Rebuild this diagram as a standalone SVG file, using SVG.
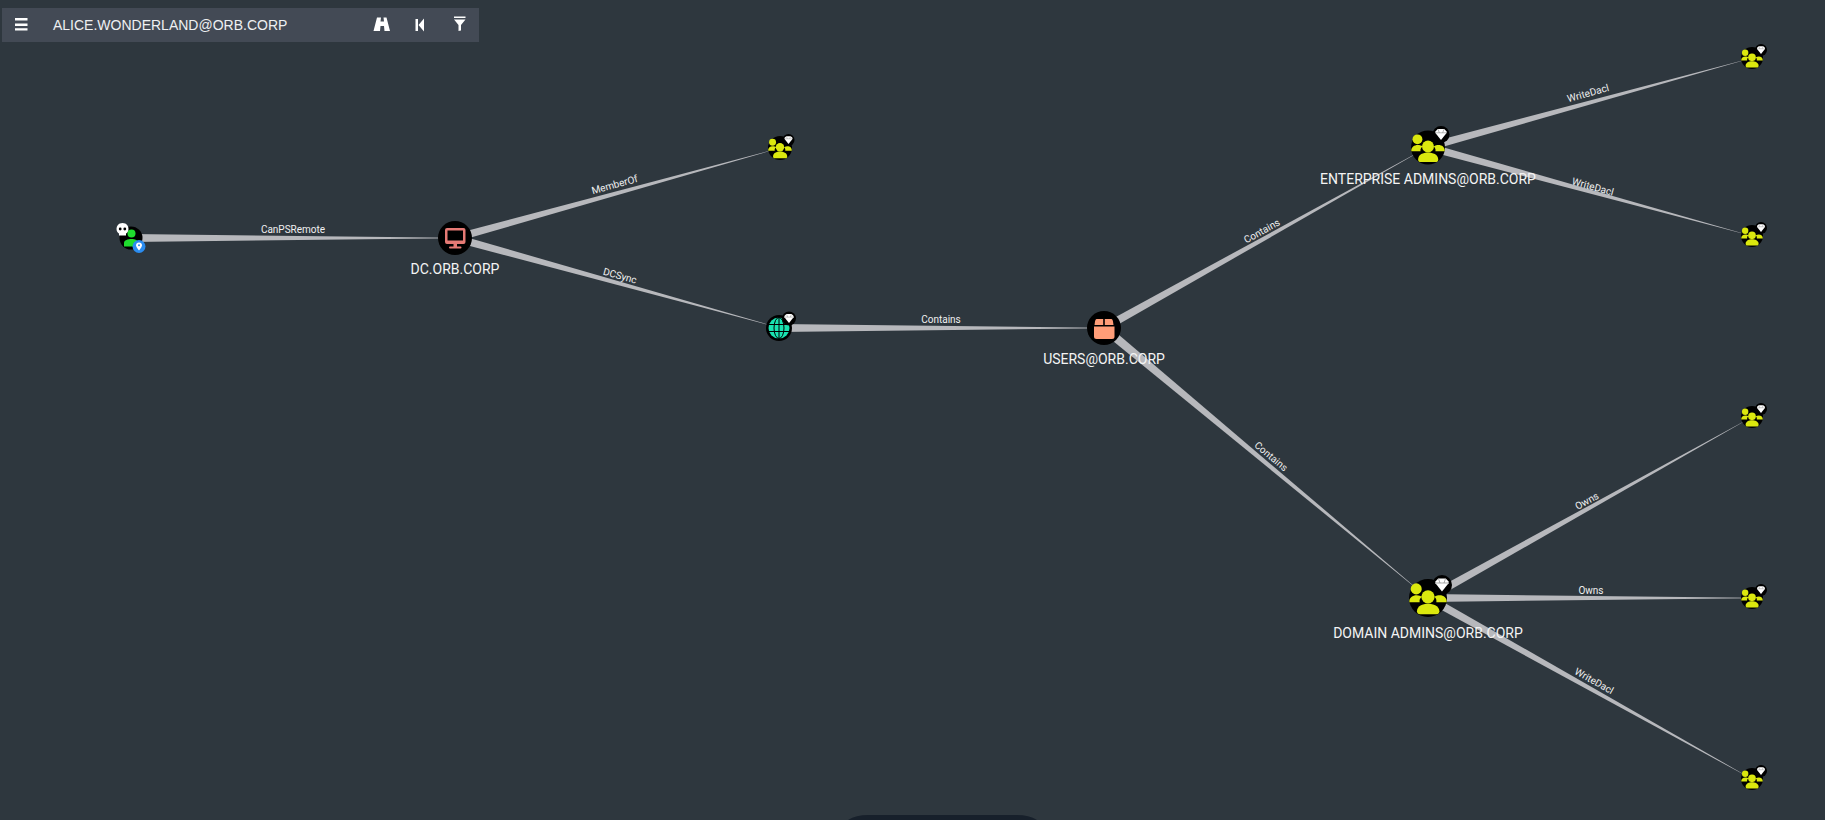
<svg xmlns="http://www.w3.org/2000/svg" width="1825" height="820" viewBox="0 0 1825 820">
<style>
.bg{fill:#2e373e}
.edge{fill:#b7b8bc}
.el{font-family:Roboto,"Liberation Sans",sans-serif;font-size:10px;fill:#f0f0f0;text-anchor:middle}
.nl{font-family:Roboto,"Liberation Sans",sans-serif;font-size:14px;font-weight:400;fill:#f4f4f4;text-anchor:middle}
.yl{fill:#dbe80e}
.ic{fill:#fff}
</style>
<defs>
<g id="group">
<circle r="1" fill="#000"/>
<circle cx="0" cy="-.06" r=".35" class="yl"/>
<path class="yl" d="M-.58.7C-.58.42-.28.3 0 .3S.6.42.6.7C.6.8.54.86.44.86H-.42C-.52.86-.58.8-.58.7Z"/>
<circle cx="-.62" cy="-.48" r=".29" class="yl"/>
<path class="yl" d="M-.98.22C-1-.02-.8-.14-.6-.14-.48-.14-.38-.1-.32-.06-.42.02-.46.1-.44.22ZM.44.22C.46.1.42.02.34-.06.44-.12.52-.14.62-.14.82-.14 1-.02.98.22Z"/>
</g>
<g id="gem">
<circle r="1" fill="#000"/>
<path fill="#fff" d="M-.66-.36-.38-.64H.38L.66-.36V-.18L0 .66-.66-.18Z"/>
<path fill="none" stroke="#777" stroke-width=".06" d="M-.62-.2H.62M-.34-.6-.2-.2M.2-.2.34-.6"/>
</g>
</defs>
<rect class="bg" width="1825" height="820"/>
<path d="M848 820Q856 815 868 815H1017Q1029 815 1037 820Z" fill="#17202b"/>

<g id="connectors">
<polygon class="edge" points="131,234 455,237.850 455,238.150 131,242"/>
<polygon class="edge" points="454,234.200 780,147.900 780,148.100 456,241.800"/>
<polygon class="edge" points="456,234.200 780,327.900 780,328.100 454,241.800"/>
<polygon class="edge" points="779,324 1104,327.850 1104,328.150 779,332"/>
<polygon class="edge" points="1102,324.500 1428,146.900 1428,147.100 1106,331.500"/>
<polygon class="edge" points="1107.300,325 1428,597.900 1428,598.100 1100.700,331"/>
<polygon class="edge" points="1427,143.200 1752,57.900 1752,58.100 1429,150.800"/>
<polygon class="edge" points="1429,143.200 1752,235.900 1752,236.100 1427,150.800"/>
<polygon class="edge" points="1426,594.500 1752,416.900 1752,417.100 1430,601.500"/>
<polygon class="edge" points="1428,594 1752,597.850 1752,598.150 1428,602"/>
<polygon class="edge" points="1430,594.500 1752,778.900 1752,779.100 1426,601.500"/>
<text class="el" x="293" y="233">CanPSRemote</text>
<text class="el" transform="translate(615.500 188) rotate(-15.500)">MemberOf</text>
<text class="el" transform="translate(619 279) rotate(15.500)">DCSync</text>
<text class="el" x="941" y="323">Contains</text>
<text class="el" transform="translate(1263.500 234) rotate(-29)">Contains</text>
<text class="el" transform="translate(1269 459) rotate(40)">Contains</text>
<text class="el" transform="translate(1589 96.500) rotate(-15.500)">WriteDacl</text>
<text class="el" transform="translate(1592 190) rotate(15.500)">WriteDacl</text>
<text class="el" transform="translate(1588.500 504) rotate(-29)">Owns</text>
<text class="el" x="1591" y="594">Owns</text>
<text class="el" transform="translate(1592.500 684) rotate(29)">WriteDacl</text>
</g>

<g id="n-alice">
<circle cx="131" cy="238" r="11.500" fill="#000"/>
<circle cx="131.500" cy="233.500" r="4" fill="#1fdc2e"/>
<path d="M124 246.500V243C124 240 128 239 131.500 239S138 240 138 243V246.500Z" fill="#1fdc2e"/>
<path class="ic" d="M122.500 223C118.500 223 116.500 226 116.500 229 116.500 231.500 118 233 119 233.500V235.500H126V233.500C127 233 128.500 231.500 128.500 229 128.500 226 126.500 223 122.500 223Z"/>
<circle cx="120.200" cy="229" r="1.400" fill="#000"/><circle cx="124.800" cy="229" r="1.400" fill="#000"/>
<circle cx="139" cy="246.500" r="6.500" fill="#2a8cf0"/>
<path class="ic" d="M139 242.500C137.200 242.500 136 243.800 136 245.300 136 247.200 139 250.500 139 250.500S142 247.200 142 245.300C142 243.800 140.800 242.500 139 242.500Z"/>
<circle cx="139" cy="245.300" r="1" fill="#2a8cf0"/>
</g>

<g id="n-dc">
<circle cx="455" cy="238" r="17" fill="#000"/>
<path fill="#e67a75" fill-rule="evenodd" d="M447 228H463.500A2 2 0 0 1 465.500 230V242A2 2 0 0 1 463.500 244H447A2 2 0 0 1 445 242V230A2 2 0 0 1 447 228ZM447.500 230.500V240.500H463V230.500Z"/>
<rect x="453.500" y="244" width="3.500" height="3" fill="#e67a75"/>
<rect x="449" y="246.500" width="12.500" height="2" rx="1" fill="#e67a75"/>
<text class="nl" x="455" y="273.500">DC.ORB.CORP</text>
</g>

<g id="n-g1">
<use href="#group" transform="translate(780 148) scale(12)"/>
<use href="#gem" transform="translate(788.500 140) scale(6)"/>
</g>

<g id="n-domain">
<circle cx="779" cy="328" r="13" fill="#000"/>
<circle cx="779" cy="328" r="10.500" fill="#19e3b1"/>
<g fill="none" stroke="#000" stroke-width="1">
<ellipse cx="779" cy="328" rx="5" ry="10.500"/>
<path d="M768.500 324.500H789.500M768.500 331.500H789.500M779 317.500V338.500"/>
</g>
<use href="#gem" transform="translate(789 318.500) scale(7)"/>
</g>

<g id="n-users">
<circle cx="1104" cy="328" r="17" fill="#000"/>
<path fill="#ff9d78" d="M1096.500 319H1103.200V325H1094.500L1095 321.500Q1095.300 319 1096.500 319ZM1104.800 319H1111.500Q1112.700 319 1113 321.500L1113.500 325H1104.800ZM1094 326.500H1114.500V336.500Q1114.500 339 1112 339H1096.500Q1094 339 1094 336.500Z"/>
<text class="nl" x="1104" y="363.500">USERS@ORB.CORP</text>
</g>

<g id="n-ea">
<use href="#group" transform="translate(1428 147.500) scale(17)"/>
<use href="#gem" transform="translate(1441 134.500) scale(8.500)"/>
<text class="nl" x="1428" y="184">ENTERPRISE ADMINS@ORB.CORP</text>
</g>

<g id="n-da">
<use href="#group" transform="translate(1428 598) scale(19)"/>
<use href="#gem" transform="translate(1442 585) scale(10)"/>
<text class="nl" x="1428" y="637.500">DOMAIN ADMINS@ORB.CORP</text>
</g>

<g id="n-g2"><use href="#group" transform="translate(1752 58) scale(11)"/><use href="#gem" transform="translate(1761 50) scale(6)"/></g>
<g id="n-g3"><use href="#group" transform="translate(1752 236) scale(11)"/><use href="#gem" transform="translate(1761 228) scale(6)"/></g>
<g id="n-g4"><use href="#group" transform="translate(1752 417) scale(11)"/><use href="#gem" transform="translate(1761 409) scale(6)"/></g>
<g id="n-g5"><use href="#group" transform="translate(1752 598) scale(11)"/><use href="#gem" transform="translate(1761 590) scale(6)"/></g>
<g id="n-g6"><use href="#group" transform="translate(1752 779) scale(11)"/><use href="#gem" transform="translate(1761 771) scale(6)"/></g>

<g id="toolbar">
<rect x="2" y="8" width="477" height="34" fill="#434a55"/>
<path class="ic" d="M15 18H27.500V20.500H15ZM15 23.500H27.500V26H15ZM15 28.200H27.500V30.500H15Z"/>
<text x="53" y="30" font-family="Liberation Sans,sans-serif" font-size="14" fill="#eef0f2">ALICE.WONDERLAND@ORB.CORP</text>
<path class="ic" d="M377 17.500H381L380.500 21.500H384L383.500 17.500H386.500L390 31H384.500L384 26H380.500L380 31H373.500Z"/>
<path class="ic" d="M415.500 19H418V31H415.500ZM424 18.500V31.500L418.500 25Z"/>
<path class="ic" d="M454 16.500H465.500V18H454ZM454 19.500H465.500L461 25V30.500L458.500 31V25Z"/>
</g>
</svg>
